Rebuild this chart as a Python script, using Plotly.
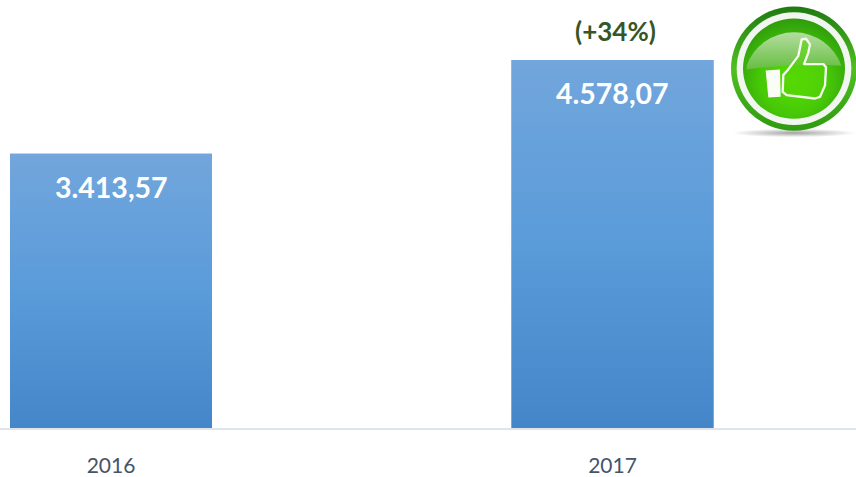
import urllib.parse
import plotly.graph_objects as go

years = ["2016", "2017"]
values = [3413.57, 4578.07]
value_labels = ["3.413,57", "4.578,07"]
change_label = "(+34%)"

W, H = 856, 477
BASE = 434.5
PX_PER_CAT = 501.5
CENTER0 = 111
BAR_W = 202 / PX_PER_CAT
Y_MAX = BASE / (373.5 / values[1])
X0 = -CENTER0 / PX_PER_CAT
X1 = X0 + W / PX_PER_CAT

GRAD = [[0, "#4486C8"], [0.5, "#5A9BDA"], [1, "#72A6DC"]]

fig = go.Figure()
xs = list(range(len(years)))
fig.add_trace(go.Bar(x=xs, y=values, width=BAR_W, marker=dict(color="#5A9BDA", line_width=0),
                     showlegend=False, hoverinfo="skip"))
for x, v in zip(xs, values):
    fig.add_trace(go.Scatter(
        x=[x - BAR_W / 2, x + BAR_W / 2, x + BAR_W / 2, x - BAR_W / 2, x - BAR_W / 2],
        y=[0, 0, v, v, 0], mode="lines", line_width=0, fill="toself",
        fillgradient=dict(type="vertical", colorscale=GRAD),
        showlegend=False, hoverinfo="skip"))

for x, v, t in zip(xs, values, value_labels):
    fig.add_annotation(x=x, y=v, text=f"<b>{t}</b>", showarrow=False, yanchor="middle", yshift=-33,
                       font=dict(family="Lato", size=28.5, color="#FFFFFF"))
fig.add_annotation(x=xs[1], y=values[1], text=f"<b>{change_label}</b>", showarrow=False, yanchor="middle",
                   xshift=3, yshift=29, font=dict(family="Lato", size=26, color="#375623"))

svg = '''<svg xmlns="http://www.w3.org/2000/svg" width="468" height="450" viewBox="0 0 468 450">
<defs>
<radialGradient id="g" cx="50%" cy="62%" r="62%"><stop offset="0" stop-color="#58E000"/><stop offset="0.55" stop-color="#46C808"/><stop offset="1" stop-color="#2E9C0C"/></radialGradient>
<linearGradient id="top" x1="0" y1="0" x2="0" y2="1"><stop offset="0" stop-color="#B4DDA0"/><stop offset="1" stop-color="#66BE40"/></linearGradient>
<linearGradient id="ring" x1="0" y1="0" x2="0" y2="1"><stop offset="0" stop-color="#1E7A10"/><stop offset="0.5" stop-color="#50C020"/><stop offset="1" stop-color="#2E9A10"/></linearGradient>
<radialGradient id="sh"><stop offset="0" stop-color="#999" stop-opacity="0.9"/><stop offset="1" stop-color="#999" stop-opacity="0"/></radialGradient>
</defs>
<ellipse cx="282" cy="405" rx="185" ry="13" fill="url(#sh)"/>
<circle cx="282" cy="209" r="189" fill="url(#ring)"/>
<circle cx="282" cy="209" r="172" fill="#F2F6F0"/>
<circle cx="282" cy="209" r="153" fill="url(#g)"/>
<path d="M140,200 A 150 150 0 0 1 424,200 Q 282,190 140,212 Z" fill="url(#top)"/>
<path d="M197,215 L240,212 L242,295 L205,297 Z" fill="#FAFDF6"/>
<path d="M250,228 L262,215 L295,170 L305,120 L318,118 L330,135 L325,160 L312,195 L370,195 L378,205 L375,260 L360,295 L345,300 L260,290 L248,280 Z"
 fill="#55D408" fill-opacity="0.6" stroke="#F4FBEE" stroke-width="7" stroke-linejoin="round"/>
</svg>'''
src = "data:image/svg+xml;charset=utf-8," + urllib.parse.quote(svg)
fig.add_layout_image(source=src, xref="paper", yref="paper", x=700 / W, y=1, sizex=156 / W, sizey=150 / BASE,
                     xanchor="left", yanchor="top", sizing="stretch", layer="above")

fig.update_layout(
    width=W, height=H, margin=dict(l=0, r=0, t=0, b=H - BASE), autosize=False,
    paper_bgcolor="#FFFFFF", plot_bgcolor="#FFFFFF", showlegend=False,
    xaxis=dict(range=[X0, X1], tickvals=xs, ticktext=years, showgrid=False, zeroline=False,
               showline=True, linecolor="#DFE3EC", linewidth=2, ticks="", ticklabelstandoff=18,
               tickfont=dict(family="Lato", size=21, color="#44546A")),
    yaxis=dict(range=[0, Y_MAX], visible=False),
)
fig.write_html("out.html", config=dict(displayModeBar=False),
               post_script="document.body.style.margin='0';document.documentElement.style.overflow='hidden';")
